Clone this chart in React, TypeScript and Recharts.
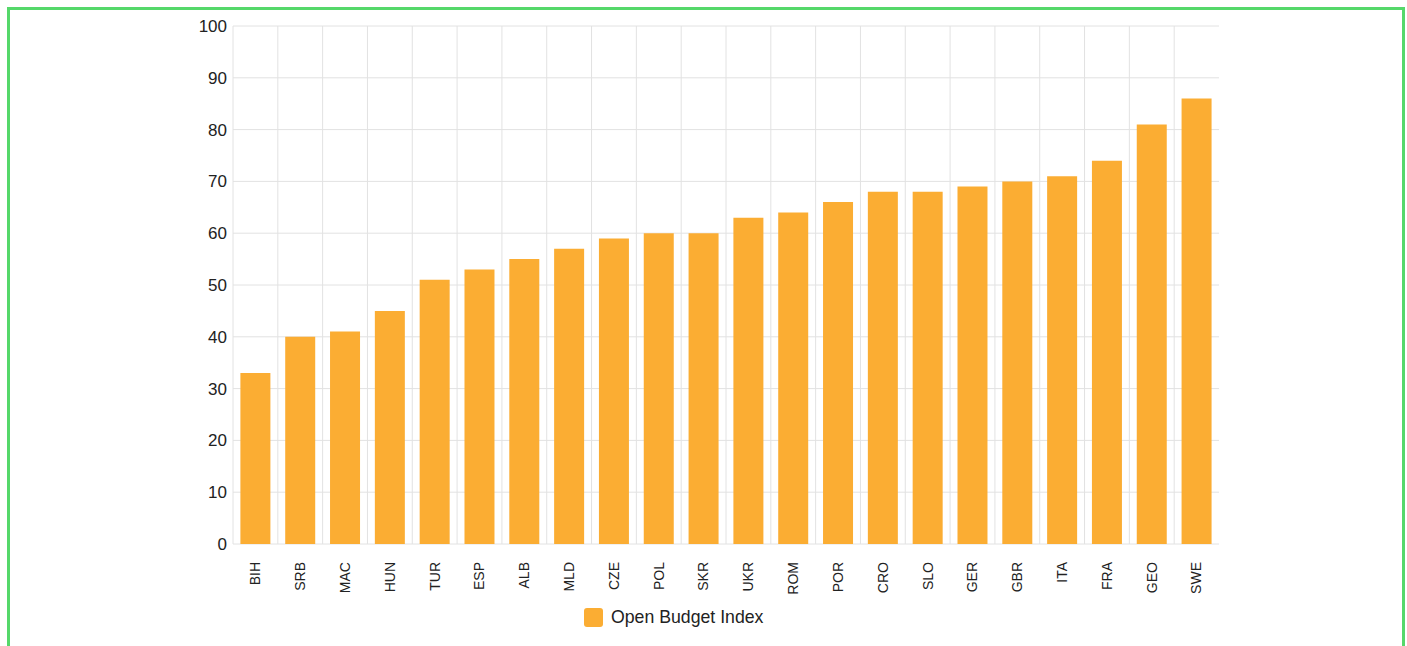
import { BarChart, Bar, XAxis, YAxis, CartesianGrid, Legend } from 'recharts';

const countries = ['BIH', 'SRB', 'MAC', 'HUN', 'TUR', 'ESP', 'ALB', 'MLD', 'CZE', 'POL', 'SKR', 'UKR', 'ROM', 'POR', 'CRO', 'SLO', 'GER', 'GBR', 'ITA', 'FRA', 'GEO', 'SWE'];
const scores = [33, 40, 41, 45, 51, 53, 55, 57, 59, 60, 60, 63, 64, 66, 68, 68, 69, 70, 71, 74, 81, 86];
const yTicks = [0, 10, 20, 30, 40, 50, 60, 70, 80, 90, 100];

const seriesName = 'Open Budget Index';
const barColor = '#fbad33';
const font = 'Arial, "Liberation Sans", sans-serif';

const data = countries.map((c, i) => ({ country: c, score: scores[i] }));

function CountryTick({ x, y, payload }: any) {
    return (
        <g transform={`translate(${x},${y + 18})`}>
            <text transform="rotate(-90)" textAnchor="end" dy="0.35em" fill="#222" fontSize={14} fontFamily={font}>
                {payload.value}
            </text>
        </g>
    );
}

function LegendBox() {
    return (
        <div style={{ display: 'flex', alignItems: 'center', fontFamily: font, fontSize: 17.7, color: '#222', whiteSpace: 'nowrap' }}>
            <span style={{ width: 19, height: 19, background: barColor, borderRadius: 3, marginRight: 8, display: 'inline-block' }} />
            {seriesName}
        </div>
    );
}

export default function App() {
    return (
        // fixed frame, bottom edge runs off the page like in the screenshot; no scrollbar
        <div style={{ position: 'fixed', top: 7, left: 7, width: 1398, height: 639, overflow: 'hidden' }}>
            <div style={{ width: 1392, height: 660, border: '3px solid #55d86a', position: 'relative', background: '#fff' }}>
                <BarChart
                    width={1392}
                    height={630}
                    data={data}
                    margin={{ top: 16, right: 183, left: 163, bottom: 22 }}
                    barCategoryGap="16.5%"
                >
                    <CartesianGrid
                        stroke="#e2e2e2"
                        verticalCoordinatesGenerator={({ offset }: any) =>
                            countries.map((_, i) => offset.left + (i * offset.width) / countries.length)
                        }
                    />
                    <XAxis
                        dataKey="country"
                        axisLine={false}
                        tickLine={false}
                        tickSize={0}
                        tickMargin={0}
                        interval={0}
                        height={50}
                        tick={<CountryTick />}
                    />
                    <YAxis
                        domain={[0, 100]}
                        ticks={yTicks}
                        width={60}
                        axisLine={false}
                        tickLine={false}
                        tickSize={0}
                        tickMargin={6}
                        tick={{ fill: '#222', fontSize: 17, fontFamily: font }}
                    />
                    <Legend
                        content={<LegendBox />}
                        height={24}
                        wrapperStyle={{ top: 597, left: 574, bottom: 'auto', width: 'auto' }}
                    />
                    <Bar dataKey="score" name={seriesName} fill={barColor} isAnimationActive={false} />
                </BarChart>
            </div>
        </div>
    );
}
